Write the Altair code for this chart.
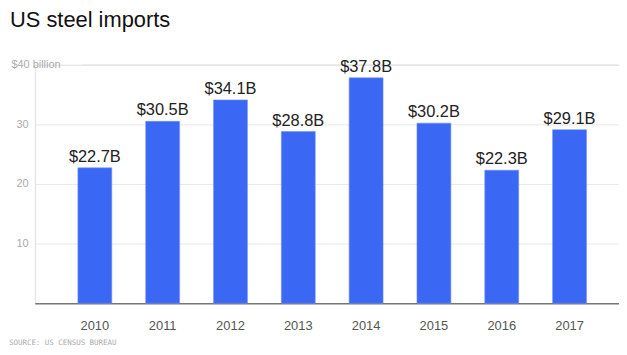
import altair as alt
import pandas as pd

years = ["2010", "2011", "2012", "2013", "2014", "2015", "2016", "2017"]
values = [22.7, 30.5, 34.1, 28.8, 37.8, 30.2, 22.3, 29.1]
labels = ["$22.7B", "$30.5B", "$34.1B", "$28.8B", "$37.8B", "$30.2B", "$22.3B", "$29.1B"]
y_ticks = [10, 20, 30, 40]
title_text = ["US steel imports"]
source_text = ["SOURCE: US CENSUS BUREAU"]

df = pd.DataFrame({"year": years, "value": values, "label": labels})

W, H = 588, 240
FONT = "Liberation Sans"

x_enc = alt.X(
    "year:N",
    sort=years,
    title=None,
    scale=alt.Scale(paddingInner=0.5, paddingOuter=0.557, align=0.57),
    axis=alt.Axis(
        labelAngle=0, labelFont=FONT, labelFontSize=13, labelColor="#555",
        ticks=False, labelPadding=17, domainColor="#777", domainWidth=1.5,
        grid=False,
    ),
)
y_enc = alt.Y(
    "value:Q",
    title=None,
    scale=alt.Scale(domain=[0, 40], nice=False),
    axis=alt.Axis(
        values=y_ticks, grid=True, domain=False, ticks=False,
        gridColor="#e8e8e8",
        gridOpacity={"condition": {"test": "datum.value === 40", "value": 0}, "value": 1},
        labelFont=FONT, labelFontSize=11, labelColor="#aaa",
        labelAlign="left",
        labelPadding={"condition": {"test": "datum.value === 40", "value": 24}, "value": 19},
        labelExpr="datum.value === 40 ? '$40 billion' : datum.label",
    ),
)

base = alt.Chart(df)
bars = base.mark_bar(color="#3a67f4", stroke="#6f90f7", strokeWidth=0.6).encode(x=x_enc, y=y_enc)
texts = base.mark_text(
    baseline="alphabetic", dy=-6, font=FONT, fontSize=16.5, color="#222"
).encode(x=alt.X("year:N", sort=years), y="value:Q", text="label:N")

grid40 = alt.Chart(pd.DataFrame({"v": [40]})).mark_rule(color="#e8e8e8").encode(
    y="v:Q", x=alt.value(48), x2=alt.value(W)
)

title = alt.Chart(pd.DataFrame({"t": title_text})).mark_text(
    align="left", baseline="alphabetic", font=FONT, fontSize=22, color="#111"
).encode(text="t:N", x=alt.value(-25), y=alt.value(-38))

source = alt.Chart(pd.DataFrame({"t": source_text})).mark_text(
    align="left", baseline="middle", font="DejaVu Sans Mono", fontSize=7.5, color="#aaa"
).encode(text="t:N", x=alt.value(-26), y=alt.value(H + 40))

chart = alt.layer(grid40, bars, texts, title, source).properties(
    width=W,
    height=H,
    autosize=alt.AutoSizeParams(type="none"),
    padding={"left": 27, "top": 56, "right": 0, "bottom": 43},
).configure_view(stroke=None).configure(background="white")

chart.save("out.html", embed_options={"renderer": "svg", "actions": False})
